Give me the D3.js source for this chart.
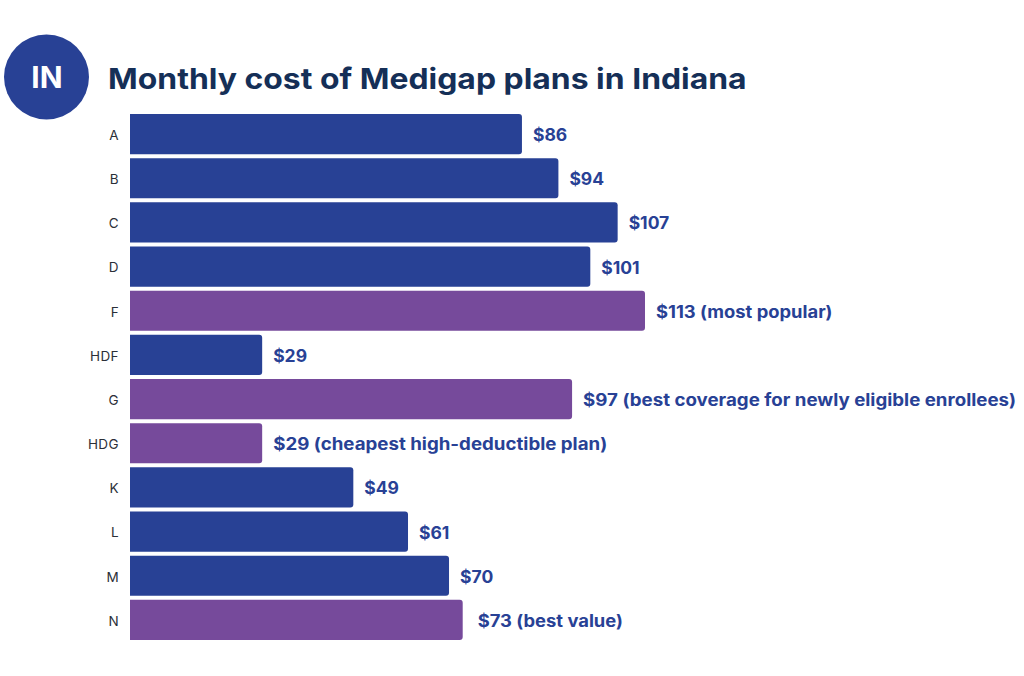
<!DOCTYPE html>
<html>
<head>
<meta charset="utf-8">
<script src="https://cdn.jsdelivr.net/npm/d3@7"></script>
<style>
  html, body { margin: 0; padding: 0; background: #fff; }
  svg { display: block; }
  text { font-family: Inter, "Open Sans", sans-serif; }
</style>
</head>
<body>
<div id="chart"></div>
<script>
const plans = ["A", "B", "C", "D", "F", "HDF", "G", "HDG", "K", "L", "M", "N"];
const costs = [86, 94, 107, 101, 113, 29, 97, 29, 49, 61, 70, 73];
const notes = ["", "", "", "", "most popular", "", "best coverage for newly eligible enrollees", "cheapest high-deductible plan", "", "", "", "best value"];
const highlighted = ["F", "G", "HDG", "N"];

const width = 1024,
  height = 676;

const blue = "#284195",
  purple = "#764A9B",
  navy = "#152F57";

const svg = d3.select("#chart")
  .append("svg")
  .attr("width", width)
  .attr("height", height);

// Inter est plus etroite que la police d'origine : on etire le texte
function stretch(selection, factor) {
  selection.each(function () {
    const f = typeof factor === "function" ? factor.apply(this, arguments) : factor;
    d3.select(this)
      .attr("textLength", this.getComputedTextLength() * f)
      .attr("lengthAdjust", "spacingAndGlyphs");
  });
}

// Badge + titre
svg.append("circle")
  .attr("cx", 46.5)
  .attr("cy", 77)
  .attr("r", 42.5)
  .attr("fill", blue);

svg.append("text")
  .attr("x", 47)
  .attr("y", 88)
  .attr("text-anchor", "middle")
  .attr("fill", "#fff")
  .attr("font-size", 30)
  .attr("font-weight", 700)
  .text("IN");

svg.append("text")
  .attr("x", 108)
  .attr("y", 89)
  .attr("fill", navy)
  .attr("font-size", 29)
  .attr("font-weight", 700)
  .text("Monthly cost of Medigap plans in Indiana")
  .call(stretch, 1.1);

// Echelles
const x = d3.scaleLinear()
  .domain([0, 113])
  .range([130, 645]);

const y = d3.scaleBand()
  .domain(plans)
  .range([114, 640])
  .paddingInner(0.09);

// Barres : coins arrondis a droite seulement
function barPath(plan, cost) {
  const r = 3;
  const x0 = x(0), x1 = x(cost), y0 = y(plan), y1 = y(plan) + y.bandwidth();
  const p = d3.path();
  p.moveTo(x0, y0);
  p.lineTo(x1 - r, y0);
  p.arcTo(x1, y0, x1, y0 + r, r);
  p.lineTo(x1, y1 - r);
  p.arcTo(x1, y1, x1 - r, y1, r);
  p.lineTo(x0, y1);
  p.closePath();
  return p.toString();
}

svg.selectAll(".bar")
  .data(plans)
  .join("path")
  .attr("class", "bar")
  .attr("d", (d, i) => barPath(d, costs[i]))
  .attr("fill", d => highlighted.includes(d) ? purple : blue);

// Axe des plans
const yAxis = svg.append("g")
  .attr("transform", `translate(${x(0)},1.5)`)
  .call(d3.axisLeft(y).tickSize(0).tickPadding(11));

yAxis.select(".domain").remove();
yAxis.selectAll("text")
  .attr("fill", "#2b2f38")
  .attr("font-size", 13.5)
  .attr("font-family", "Inter, sans-serif")
  .attr("letter-spacing", 0.4);

// Valeurs
svg.selectAll(".value")
  .data(plans)
  .join("text")
  .attr("class", "value")
  .attr("x", (d, i) => x(costs[i]) + (d === "N" ? 15 : 11))
  .attr("y", d => y(d) + y.bandwidth() / 2 + 7)
  .attr("fill", blue)
  .attr("font-size", 17)
  .attr("font-weight", 700)
  .text((d, i) => notes[i] ? `$${costs[i]} (${notes[i]})` : `$${costs[i]}`)
  .call(stretch, (d, i) => notes[i].length > 20 ? 1.1 : notes[i] ? 1.08 : 1.03);
</script>
</body>
</html>
